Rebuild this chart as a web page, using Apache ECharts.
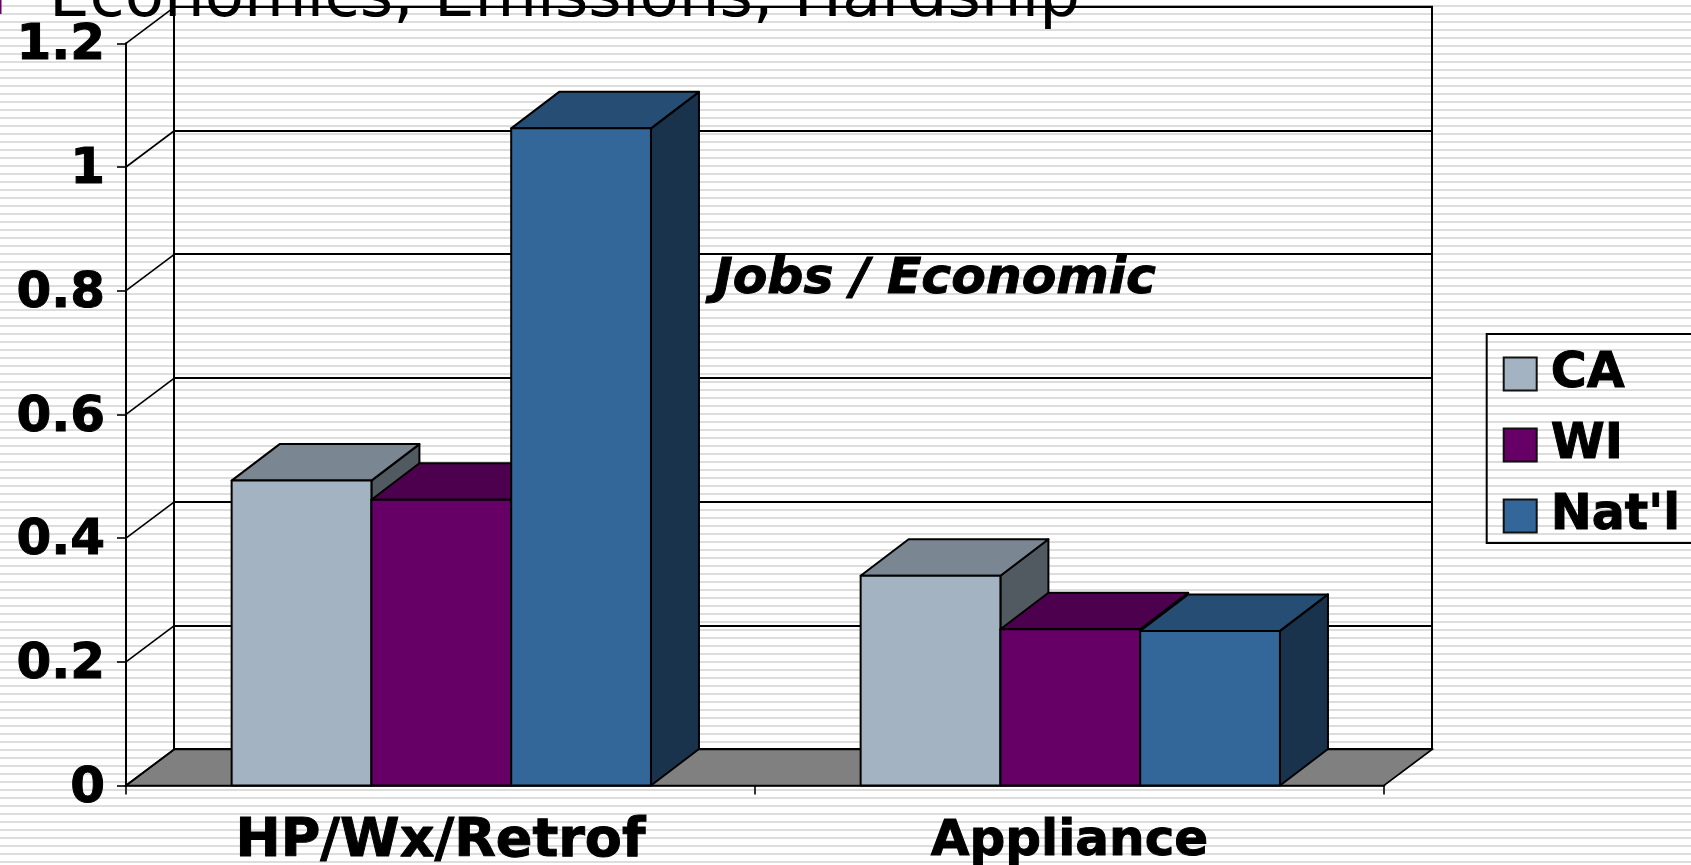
<!DOCTYPE html>
<html><head><meta charset="utf-8">
<style>
html,body{margin:0;padding:0;width:100%;height:100%;overflow:hidden;background:#fff;}
#c{position:absolute;left:0;top:0;width:1691px;height:865px;
background:repeating-linear-gradient(to bottom,#fff 0,#fff 5px,#ddd 5px,#ddd 7px,#fff 7px,#fff 8px);}
</style>
<script src="https://cdn.jsdelivr.net/npm/echarts@6/dist/echarts.min.js"></script>
</head><body><div id="c"></div>
<script>
const categories = ['HP/Wx/Retrof', 'Appliance'];
const valuesCA = [0.493, 0.339];
const valuesWI = [0.462, 0.2525];
const valuesNat = [1.0625, 0.25];
const yTicks = [0, 0.2, 0.4, 0.6, 0.8, 1, 1.2];
const seriesNames = ['CA', 'WI', "Nat'l"];
const seriesColors = [
  {front:'#A3B3C2', top:'#7A8691', side:'#525A61'},
  {front:'#660066', top:'#4D004D', side:'#330033'},
  {front:'#336699', top:'#264D73', side:'#1A334D'}
];
const titleText = 'Economics, Emissions, Hardship';
const noteText = 'Jobs / Economic';

const DX = 48, DY = 36, LINE = '#000';
const FONT = '"DejaVu Sans", Verdana, sans-serif';

function barRender(i){
  const col = seriesColors[i];
  return function(params, api){
    const band = api.size([1,0])[0];
    const w = band/4.5;
    const c = api.coord([api.value(0), api.value(1)]);
    const b = api.coord([api.value(0), 0]);
    const x0 = c[0] + (i-1.5)*w + 0.8, x1 = x0 + w, yt = c[1], yb = b[1];
    const dx = DX, dy = DY + 0.5;
    const st = f => ({fill:f, stroke:LINE, lineWidth:2, lineJoin:'round'});
    return {type:'group', children:[
      {type:'polygon', shape:{points:[[x1,yt],[x1+dx,yt-dy],[x1+dx,yb-dy],[x1,yb]]}, style:st(col.side)},
      {type:'polygon', shape:{points:[[x0,yt],[x0+dx,yt-dy],[x1+dx,yt-dy],[x1,yt]]}, style:st(col.top)},
      {type:'rect', shape:{x:x0,y:yt,width:w,height:yb-yt}, style:st(col.front)}
    ]};
  };
}
function frameRender(params, api){
  const v = api.value(1);
  const cs = params.coordSys;
  const y = api.coord([0,v])[1];
  const kids = [{type:'line', shape:{x1:cs.x,y1:y,x2:cs.x+DX,y2:y-DY}, style:{stroke:LINE,lineWidth:1.6}}];
  if(v===0){
    kids.unshift({type:'polygon', shape:{points:[[cs.x,y],[cs.x+DX,y-DY],[cs.x+cs.width+DX,y-DY],[cs.x+cs.width,y]]},
      style:{fill:'#808080',stroke:LINE,lineWidth:1.6}});
  }
  return {type:'group',children:kids};
}
const barSeries = [valuesCA, valuesWI, valuesNat].map((vals,i)=>({
  type:'custom', name:seriesNames[i], coordinateSystem:'cartesian2d', xAxisIndex:0, yAxisIndex:0,
  clip:false, silent:true, renderItem:barRender(i),
  itemStyle:{color:seriesColors[i].front},
  encode:{x:0,y:1},
  data:vals.map((v,k)=>[k,v])
}));
const chart = echarts.init(document.getElementById('c'), null, {renderer:'canvas'});
chart.setOption({
  animation:false,
  backgroundColor:'transparent',
  grid:[
    {left:126,top:43.3,width:1258,height:742.2,containLabel:false,outerBoundsMode:'none'},
    {left:174,top:6.8,width:1258,height:742.2,show:true,borderColor:LINE,borderWidth:2,backgroundColor:'transparent',outerBoundsMode:'none'},
    {left:126,top:46.5,width:1258,height:742.2,containLabel:false,outerBoundsMode:'none'}
  ],
  xAxis:[
    {type:'category',gridIndex:0,
     data:categories.map((c,i)=>({value:c,textStyle:{fontSize:i===0?54:50}})),
     axisLine:{lineStyle:{color:LINE,width:2.5}},
     axisTick:{show:true,length:9,alignWithLabel:false,lineStyle:{color:LINE,width:1.6}},
     axisLabel:{margin:31,color:'#000',fontFamily:FONT,fontWeight:'bold',fontSize:50,lineHeight:51,interval:0,
       textBorderColor:'#000',textBorderWidth:1}},
    {type:'category',gridIndex:1,data:categories,show:false},
    {type:'category',gridIndex:2,data:categories,show:false}
  ],
  yAxis:[
    {type:'value',gridIndex:0,min:0,max:1.2,interval:0.2,
     axisLine:{show:true,lineStyle:{color:LINE,width:2}},
     axisTick:{show:true,length:9,lineStyle:{color:LINE,width:1.6}},
     splitLine:{show:false},axisLabel:{show:false}},
    {type:'value',gridIndex:1,min:0,max:1.2,interval:0.2,
     axisLine:{show:false},axisTick:{show:false},axisLabel:{show:false},
     splitLine:{show:true,lineStyle:{color:LINE,width:2,type:'solid'}}},
    {type:'value',gridIndex:2,min:0,max:1.2,interval:0.2,
     axisLine:{show:false},axisTick:{show:false},splitLine:{show:false},
     axisLabel:{margin:21,color:'#000',fontFamily:FONT,fontWeight:'bold',fontSize:50,
       textBorderColor:'#000',textBorderWidth:1,
       formatter:v=>String(Math.round(v*10)/10)}}
  ],
  legend:{
    show:true,orient:'vertical',left:1486.7,top:334,
    padding:[15,80,2,16],itemGap:21,itemWidth:33,itemHeight:33,
    borderColor:LINE,borderWidth:2,backgroundColor:'transparent',
    icon:'rect',selectedMode:false,
    data:seriesNames,
    itemStyle:{borderColor:'#111',borderWidth:2},
    textStyle:{color:'#000',fontFamily:FONT,fontWeight:'bold',fontSize:49,lineHeight:33,padding:[0,0,0,9],
      textBorderColor:'#000',textBorderWidth:1}
  },
  graphic:[
    {type:'rect',z:100,silent:true,shape:{x:0,y:0,width:1.5,height:14},style:{fill:'#660066'}},
    {type:'text',z:100,silent:true,style:{x:49,y:31,text:titleText,fill:'#000',
      font:'normal 64.2px '+FONT,verticalAlign:'bottom'}},
    {type:'text',z:100,silent:true,style:{x:714,y:255,text:noteText,fill:'#000',stroke:'#000',lineWidth:1,
      font:'italic bold 50.4px '+FONT,verticalAlign:'top'}}
  ],
  series:[
    {type:'custom',name:'frame',coordinateSystem:'cartesian2d',xAxisIndex:0,yAxisIndex:0,clip:false,silent:true,
     renderItem:frameRender,encode:{x:0,y:1},data:yTicks.map(v=>[0,v])}
  ].concat(barSeries)
});
</script></body></html>
